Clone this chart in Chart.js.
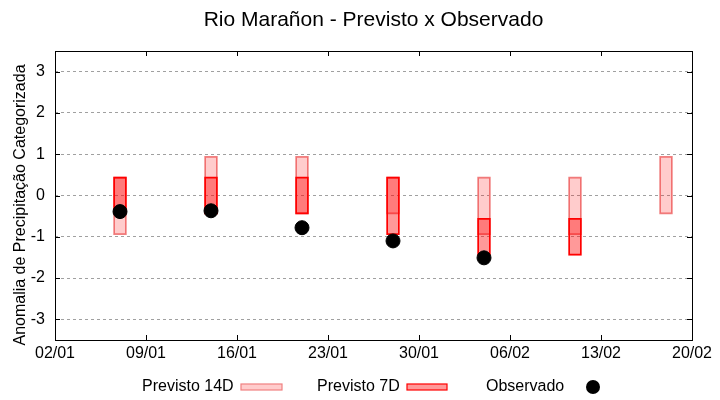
<!DOCTYPE html>
<html>
<head>
<meta charset="utf-8">
<script src="https://cdn.jsdelivr.net/npm/chart.js@4"></script>
<style>
  body { margin: 0; background: #fff; }
</style>
</head>
<body>
<canvas id="grafico" width="720" height="400"></canvas>
<script>
const xLabels = ["02/01", "09/01", "16/01", "23/01", "30/01", "06/02", "13/02", "20/02"];
const datas = ["07/01", "14/01", "21/01", "28/01", "04/02", "11/02", "18/02"];
const previsto14Min = [-0.95, -0.45, -0.45, -0.45, -0.95, -0.95, -0.45];
const previsto14Max = [0.45, 0.95, 0.95, 0.45, 0.45, 0.45, 0.95];
const previsto7Min = [-0.45, -0.45, -0.45, -0.95, -1.45, -1.45, null];
const previsto7Max = [0.45, 0.45, 0.45, 0.45, -0.55, -0.55, null];
const observado = [-0.39, -0.37, -0.78, -1.1, -1.51, null, null];
const yTicks = [-3, -2, -1, 0, 1, 2, 3];

const fonte = "'Liberation Sans', Arial, sans-serif";

// dias desde 02/01
function dia(s) {
  const [d, m] = s.split("/").map(Number);
  return (m === 2 ? 31 : 0) + d - 2;
}

const xPos = datas.map(dia);
const xTickPos = xLabels.map(dia);

const dados14 = [];
const dados7 = [];
const dadosObs = [];
xPos.forEach((x, i) => {
  dados14.push({ x: x, y: [previsto14Min[i], previsto14Max[i]] });
  if (previsto7Min[i] !== null) dados7.push({ x: x, y: [previsto7Min[i], previsto7Max[i]] });
  if (observado[i] !== null) dadosObs.push({ x: x, y: observado[i] });
});

// titulo, rotulo do eixo y, moldura e legenda
const extras = {
  id: "extras",
  beforeDatasetsDraw(chart) {
    const { ctx, chartArea: a, scales } = chart;
    ctx.save();
    ctx.strokeStyle = "#000";
    ctx.lineWidth = 1;
    ctx.strokeRect(a.left + 0.5, a.top + 0.5, a.right - a.left, a.bottom - a.top);
    // marcas dos eixos (espelhadas)
    ctx.beginPath();
    xTickPos.forEach((v) => {
      const px = Math.round(scales.x.getPixelForValue(v)) + 0.5;
      ctx.moveTo(px, a.bottom);
      ctx.lineTo(px, a.bottom - 5);
      ctx.moveTo(px, a.top);
      ctx.lineTo(px, a.top + 5);
    });
    yTicks.forEach((v) => {
      const py = Math.round(scales.y.getPixelForValue(v)) + 0.5;
      ctx.moveTo(a.left, py);
      ctx.lineTo(a.left + 5, py);
      ctx.moveTo(a.right, py);
      ctx.lineTo(a.right - 5, py);
    });
    ctx.stroke();
    ctx.restore();
  },
  afterDraw(chart) {
    const { ctx, chartArea: a } = chart;
    ctx.save();
    ctx.fillStyle = "#000";
    ctx.textBaseline = "middle";

    ctx.font = "21px " + fonte;
    ctx.textAlign = "center";
    ctx.fillText("Rio Marañon - Previsto x Observado", (a.left + a.right) / 2, 20);

    ctx.save();
    ctx.translate(21, 205);
    ctx.rotate(-Math.PI / 2);
    ctx.font = "16px " + fonte;
    ctx.fillText("Anomalia de Precipitação Categorizada", 0, 0);
    ctx.restore();

    // legenda
    ctx.font = "16px " + fonte;
    ctx.textAlign = "left";
    const yl = 387;
    ctx.fillText("Previsto 14D", 142, yl);
    ctx.fillStyle = "rgba(255,0,0,0.2)";
    ctx.fillRect(241, yl - 3, 41, 6);
    ctx.strokeStyle = "#f08080";
    ctx.lineWidth = 1.2;
    ctx.strokeRect(241, yl - 3, 41, 6);

    ctx.fillStyle = "#000";
    ctx.fillText("Previsto 7D", 317, yl);
    ctx.fillStyle = "rgba(255,0,0,0.4)";
    ctx.fillRect(407, yl - 3, 40, 6);
    ctx.strokeStyle = "#ff0000";
    ctx.strokeRect(407, yl - 3, 40, 6);

    ctx.fillStyle = "#000";
    ctx.fillText("Observado", 486, yl);
    ctx.beginPath();
    ctx.arc(593, yl, 7, 0, Math.PI * 2);
    ctx.fill();
    ctx.restore();
  }
};

new Chart(document.getElementById("grafico"), {
  type: "bar",
  data: {
    datasets: [
      {
        type: "scatter",
        label: "Observado",
        data: dadosObs,
        backgroundColor: "#000",
        borderColor: "#000",
        pointRadius: 7,
        order: 0
      },
      {
        label: "Previsto 7D",
        data: dados7,
        backgroundColor: "rgba(255,0,0,0.4)",
        borderColor: "#ff0000",
        borderWidth: 1.2,
        borderSkipped: false,
        barThickness: 13,
        grouped: false,
        order: 1
      },
      {
        label: "Previsto 14D",
        data: dados14,
        backgroundColor: "rgba(255,0,0,0.2)",
        borderColor: "#f08080",
        borderWidth: 1.2,
        borderSkipped: false,
        barThickness: 13,
        grouped: false,
        order: 2
      }
    ]
  },
  options: {
    responsive: false,
    animation: false,
    layout: { padding: { top: 51, right: 28, bottom: 30, left: 0 } },
    plugins: {
      legend: { display: false },
      title: { display: false },
      tooltip: { enabled: false }
    },
    scales: {
      x: {
        type: "linear",
        min: 0,
        max: 49,
        offset: false,
        grid: { display: false },
        border: { display: false },
        afterBuildTicks: (s) => { s.ticks = xTickPos.map((v) => ({ value: v })); },
        afterFit: (s) => { s.height = 30; },
        ticks: {
          color: "#000",
          font: { family: fonte, size: 16 },
          padding: -4,
          maxRotation: 0,
          autoSkip: false,
          callback: (v) => xLabels[xTickPos.indexOf(v)]
        }
      },
      y: {
        min: -3.5,
        max: 3.5,
        grid: { color: "#a0a0a0", lineWidth: 1, drawTicks: false },
        border: { display: false, dash: [3, 3] },
        afterBuildTicks: (s) => { s.ticks = yTicks.map((v) => ({ value: v })); },
        afterFit: (s) => { s.width = 55; },
        ticks: {
          color: "#000",
          font: { family: fonte, size: 16 },
          padding: 10
        }
      }
    }
  },
  plugins: [extras]
});
</script>
</body>
</html>
